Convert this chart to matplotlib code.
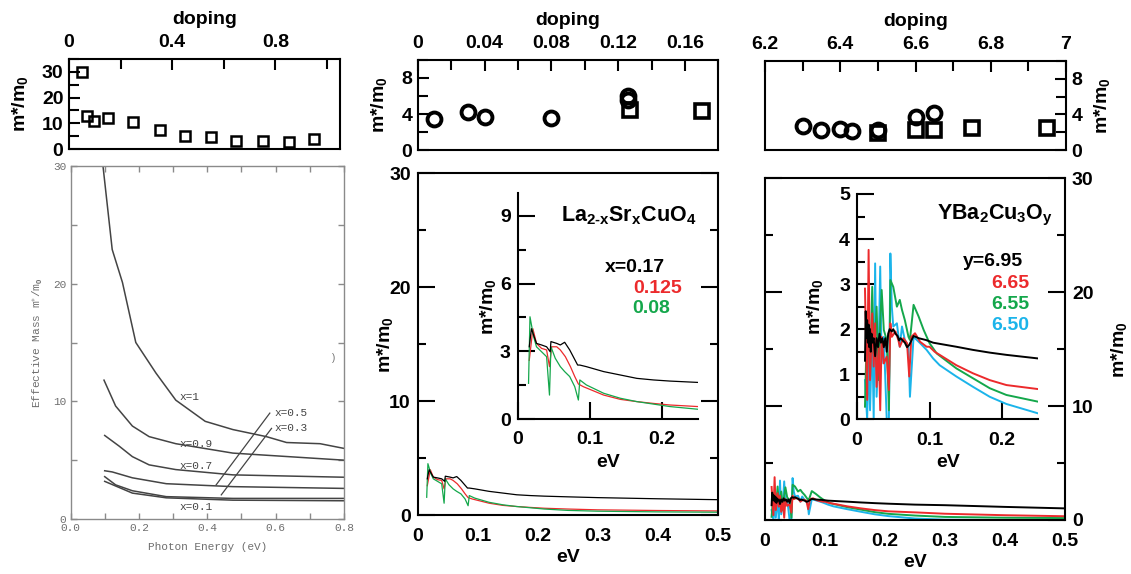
import numpy as np
import matplotlib
matplotlib.use("Agg")
import matplotlib.pyplot as plt
from matplotlib.ticker import MultipleLocator

plt.rcParams['font.family'] = ['Liberation Sans', 'DejaVu Sans']
plt.rcParams['font.weight'] = 'bold'
plt.rcParams['axes.labelweight'] = 'bold'
plt.rcParams['mathtext.fontset'] = 'custom'
plt.rcParams['mathtext.rm'] = 'Liberation Sans:bold'
plt.rcParams['mathtext.bf'] = 'Liberation Sans:bold'
plt.rcParams['mathtext.it'] = 'Liberation Sans:bold'
plt.rcParams['axes.linewidth'] = 1.5

# ---------------- data ----------------
# top left: old doping dependence (squares)
old_doping = [0.05, 0.068, 0.098, 0.152, 0.249, 0.352, 0.448, 0.549, 0.648, 0.751, 0.854, 0.95]
old_mass = [30.0, 13.0, 10.9, 12.2, 10.5, 7.4, 5.1, 4.5, 3.0, 3.2, 2.6, 3.8]

# top middle: LSCO
lsco_circ_doping = [0.01, 0.03, 0.04, 0.08, 0.126, 0.126]
lsco_circ_mass = [3.4, 4.2, 3.7, 3.6, 6.0, 5.6]
lsco_sq_doping = [0.127, 0.17]
lsco_sq_mass = [4.4, 4.3]

# top right: YBCO
ybco_circ_doping = [6.30, 6.35, 6.40, 6.43, 6.50, 6.60, 6.65]
ybco_circ_mass = [2.7, 2.2, 2.4, 2.1, 2.2, 3.7, 4.2]
ybco_sq_doping = [6.50, 6.60, 6.65, 6.75, 6.95]
ybco_sq_mass = [1.9, 2.2, 2.3, 2.5, 2.5]

# bottom left: scanned effective mass vs photon energy
old_e_x10 = [0.095, 0.122, 0.152, 0.191, 0.25, 0.308, 0.394, 0.475, 0.573, 0.632, 0.73, 0.8]
old_m_x10 = [30.0, 22.9, 20.1, 15.0, 12.4, 10.1, 8.3, 7.6, 7.0, 6.5, 6.4, 6.0]
old_e_x09 = [0.098, 0.132, 0.181, 0.23, 0.308, 0.475, 0.8]
old_m_x09 = [11.8, 9.6, 7.9, 7.0, 6.4, 5.6, 5.0]
old_e_x07 = [0.1, 0.142, 0.181, 0.23, 0.308, 0.475, 0.8]
old_m_x07 = [7.1, 6.2, 5.3, 4.6, 4.2, 3.75, 3.55]
old_e_x05 = [0.1, 0.122, 0.181, 0.28, 0.475, 0.8]
old_m_x05 = [4.1, 4.0, 3.5, 3.0, 2.75, 2.6]
old_e_x03 = [0.1, 0.132, 0.181, 0.28, 0.475, 0.8]
old_m_x03 = [3.6, 2.9, 2.4, 1.9, 1.75, 1.75]
old_e_x01 = [0.1, 0.181, 0.28, 0.475, 0.8]
old_m_x01 = [3.2, 2.2, 1.8, 1.6, 1.55]

# bottom middle: LSCO m*/m0 vs eV
lsco_e_017 = [0.016, 0.019, 0.026, 0.033, 0.040, 0.045, 0.046, 0.054, 0.059, 0.065, 0.072, 0.083,
              0.086, 0.095, 0.119, 0.142, 0.165, 0.188, 0.211, 0.25, 0.3, 0.4, 0.5]
lsco_m_017 = [3.2, 4.0, 3.35, 3.28, 3.2, 2.98, 3.43, 3.35, 3.28, 3.4, 3.06, 2.39,
              2.39, 2.32, 2.1, 1.95, 1.8, 1.73, 1.68, 1.62, 1.55, 1.45, 1.37]
lsco_e_0125 = [0.016, 0.021, 0.026, 0.033, 0.040, 0.044, 0.047, 0.054, 0.059, 0.066, 0.073, 0.079,
               0.084, 0.091, 0.119, 0.142, 0.165, 0.188, 0.211, 0.25, 0.3, 0.4, 0.5]
lsco_m_0125 = [2.6, 4.0, 3.35, 3.13, 3.06, 2.32, 3.2, 3.2, 3.06, 2.76, 2.32, 1.88,
               1.55, 1.43, 1.06, 0.87, 0.77, 0.69, 0.62, 0.55, 0.48, 0.42, 0.38]
lsco_e_008 = [0.015, 0.017, 0.022, 0.026, 0.033, 0.040, 0.044, 0.046, 0.052, 0.059, 0.065, 0.072,
              0.079, 0.084, 0.086, 0.095, 0.119, 0.142, 0.165, 0.188, 0.211, 0.25, 0.3, 0.4, 0.5]
lsco_m_008 = [1.58, 4.53, 3.65, 3.2, 2.98, 2.76, 1.06, 3.2, 2.69, 2.32, 2.1, 1.88,
              1.43, 0.84, 1.73, 1.51, 1.14, 0.92, 0.77, 0.66, 0.55, 0.43, 0.36, 0.3, 0.27]

# bottom right: YBCO m*/m0 vs eV
ybco_e_695 = [0.011, 0.012, 0.013, 0.014, 0.015, 0.016, 0.017, 0.018, 0.019, 0.020, 0.021, 0.023,
              0.025, 0.027, 0.029, 0.031, 0.033, 0.035, 0.037, 0.039, 0.041, 0.043, 0.045, 0.048,
              0.050, 0.053, 0.056, 0.058, 0.060, 0.063, 0.066, 0.069, 0.072, 0.075, 0.078, 0.085,
              0.095, 0.105, 0.137, 0.16, 0.183, 0.206, 0.25, 0.3, 0.4, 0.5]
ybco_m_695 = [1.3, 2.4, 1.8, 2.2, 1.7, 2.1, 1.6, 2.0, 1.5, 1.9, 1.7, 1.8,
              1.4, 1.8, 1.6, 1.9, 1.7, 1.8, 1.6, 1.8, 1.5, 1.9, 2.0, 1.95,
              2.0, 1.9, 1.85, 1.75, 1.8, 1.75, 1.7, 1.6, 1.65, 1.75, 1.85, 1.8,
              1.76, 1.70, 1.61, 1.54, 1.48, 1.43, 1.35, 1.3, 1.15, 1.02]
ybco_e_665 = [0.011, 0.014, 0.016, 0.018, 0.021, 0.023, 0.025, 0.027, 0.030, 0.032, 0.034, 0.037,
              0.041, 0.044, 0.046, 0.048, 0.053, 0.057, 0.059, 0.064, 0.069, 0.072, 0.075, 0.080,
              0.087, 0.096, 0.100, 0.107, 0.114, 0.137, 0.160, 0.183, 0.206, 0.25, 0.3, 0.4, 0.5]
ybco_m_665 = [2.9, 0.43, 3.76, 0.87, 2.35, 1.17, 2.13, 0.72, 1.6, 0.2, 1.83, 1.24,
              1.39, 0.65, 2.13, 1.83, 1.95, 1.76, 1.61, 1.80, 1.69, 0.95, 1.83, 1.91,
              1.72, 1.61, 1.61, 1.5, 1.43, 1.2, 1.02, 0.87, 0.76, 0.67, 0.55, 0.42, 0.33]
ybco_e_655 = [0.011, 0.014, 0.016, 0.018, 0.021, 0.023, 0.025, 0.027, 0.030, 0.032, 0.034, 0.037,
              0.041, 0.044, 0.046, 0.050, 0.055, 0.059, 0.062, 0.066, 0.071, 0.073, 0.078, 0.085,
              0.092, 0.100, 0.110, 0.137, 0.160, 0.183, 0.206, 0.25, 0.3, 0.4, 0.5]
ybco_m_655 = [0.28, 2.35, 1.76, 0.95, 2.94, 1.46, 1.83, 2.5, 0.87, 2.13, 2.87, 1.98,
              1.76, 0.2, 3.09, 2.94, 2.5, 2.65, 2.43, 2.2, 1.83, 1.76, 2.54, 2.28,
              1.98, 1.69, 1.46, 1.13, 0.91, 0.69, 0.54, 0.39, 0.27, 0.2, 0.17]
ybco_e_650 = [0.011, 0.014, 0.016, 0.018, 0.021, 0.023, 0.025, 0.027, 0.030, 0.032, 0.034, 0.037,
              0.041, 0.044, 0.046, 0.048, 0.050, 0.055, 0.059, 0.062, 0.066, 0.071, 0.073, 0.078,
              0.087, 0.096, 0.105, 0.114, 0.137, 0.160, 0.183, 0.206, 0.25, 0.3, 0.4, 0.5]
ybco_m_650 = [0.87, 0.0, 1.46, 0.2, 1.98, 0.0, 3.46, 0.5, 1.61, 3.39, 1.24, 1.83,
              0.0, 0.0, 3.68, 2.5, 2.06, 2.13, 1.61, 2.06, 1.76, 1.61, 0.5, 1.83,
              1.69, 1.54, 1.35, 1.2, 0.95, 0.72, 0.5, 0.34, 0.13, 0.03, 0.0, 0.0]

red = '#ec2a2c'
green = '#14a74b'
cyan = '#1bb4ea'
scan_grey = '#444444'
scan_text = '#6e6e6e'

fig = plt.figure(figsize=(11.31, 5.74), dpi=100)
W, H = 1131.0, 574.0


def box(left, right, top, bottom):
    # pixel box -> figure fraction
    return [left / W, 1 - bottom / H, (right - left) / W, (bottom - top) / H]


def top_panel(ax, side='left'):
    ax.xaxis.set_ticks_position('top')
    ax.xaxis.set_label_position('top')
    ax.yaxis.set_ticks_position(side)
    ax.yaxis.set_label_position(side)
    ax.tick_params(which='both', direction='in', width=1.5, labelsize=14, pad=4)
    ax.tick_params(axis='x', pad=6)
    ax.tick_params(which='major', length=8)
    ax.tick_params(which='minor', length=7)
    ax.set_xlabel('doping', fontsize=14, labelpad=7)
    ax.set_ylabel('m*/m$_0$', fontsize=14)


# ---------- top left ----------
ax = fig.add_axes(box(69, 340, 59, 149))
ax.plot(old_doping, old_mass, 's', mfc='none', mec='k', ms=7, mew=1.8, clip_on=False)
ax.set_xlim(0, 1.05)
ax.set_ylim(0, 35)
ax.set_xticks([0, 0.4, 0.8], ['0', '0.4', '0.8'])
ax.xaxis.set_minor_locator(MultipleLocator(0.2))
ax.set_yticks([0, 10, 20, 30])
ax.yaxis.set_minor_locator(MultipleLocator(5))
top_panel(ax)
ax.yaxis.set_label_coords(-0.144, 0.5)

# ---------- top middle ----------
ax = fig.add_axes(box(417.7, 718.3, 60, 150))
ax.plot(lsco_circ_doping, lsco_circ_mass, 'o', mfc='none', mec='k', ms=10, mew=2.8)
ax.plot(lsco_sq_doping, lsco_sq_mass, 's', mfc='none', mec='k', ms=10, mew=2.6)
ax.set_xlim(0, 0.18)
ax.set_ylim(0, 10)
ax.set_xticks([0, 0.04, 0.08, 0.12, 0.16], ['0', '0.04', '0.08', '0.12', '0.16'])
ax.xaxis.set_minor_locator(MultipleLocator(0.02))
ax.set_yticks([0, 4, 8])
ax.yaxis.set_minor_locator(MultipleLocator(2))
top_panel(ax)
ax.yaxis.set_label_coords(-0.094, 0.5)

# ---------- top right ----------
ax = fig.add_axes(box(765, 1066, 61, 150))
ax.plot(ybco_sq_doping, ybco_sq_mass, 's', mfc='none', mec='k', ms=10, mew=2.6)
ax.plot(ybco_circ_doping, ybco_circ_mass, 'o', mfc='none', mec='k', ms=10, mew=2.8)
ax.set_xlim(6.2, 7.0)
ax.set_ylim(0, 10)
ax.set_xticks([6.2, 6.4, 6.6, 6.8, 7.0], ['6.2', '6.4', '6.6', '6.8', '7'])
ax.xaxis.set_minor_locator(MultipleLocator(0.1))
ax.set_yticks([0, 4, 8])
ax.yaxis.set_minor_locator(MultipleLocator(2))
top_panel(ax, side='right')
ax.yaxis.set_label_coords(1.088, 0.5)

# ---------- bottom left: scanned old figure ----------
ax = fig.add_axes(box(70.5, 344, 166, 519))
for e, m in [(old_e_x10, old_m_x10), (old_e_x09, old_m_x09), (old_e_x07, old_m_x07),
             (old_e_x05, old_m_x05), (old_e_x03, old_m_x03), (old_e_x01, old_m_x01)]:
    ax.plot(e, m, '-', color=scan_grey, lw=1.1)
ax.set_xlim(0, 0.8)
ax.set_ylim(0, 30)
ax.set_xticks([0, 0.2, 0.4, 0.6, 0.8], ['0.0', '0.2', '0.4', '0.6', '0.8'])
ax.xaxis.set_minor_locator(MultipleLocator(0.1))
ax.set_yticks([0, 10, 20, 30])
ax.yaxis.set_minor_locator(MultipleLocator(5))
for s in ax.spines.values():
    s.set_linewidth(1.0)
    s.set_color('#8a8a8a')
ax.tick_params(which='both', direction='in', top=True, right=True, color='#8a8a8a',
               width=1.0, labelcolor=scan_text, labelsize=8, pad=3)
ax.tick_params(which='major', length=4)
ax.tick_params(which='minor', length=4)
for lab in ax.get_xticklabels() + ax.get_yticklabels():
    lab.set_fontfamily('Liberation Mono')
    lab.set_fontweight('normal')
ax.set_xlabel('Photon Energy (eV)', fontsize=8, color=scan_text, family='Liberation Mono',
              fontweight='normal', labelpad=6)
ax.set_ylabel('Effective Mass m$^{\\ast}$/m$_0$', fontsize=8, color=scan_text,
              family='Liberation Mono', fontweight='normal', labelpad=6)
# curve labels and leader lines
curve_labels = ['x=1', 'x=0.9', 'x=0.7', 'x=0.1']
curve_label_x = [0.348, 0.367, 0.367, 0.367]
curve_label_y = [10.4, 6.4, 4.5, 1.05]
for t, lx, ly in zip(curve_labels, curve_label_x, curve_label_y):
    ax.text(lx, ly, t, fontsize=8, color=scan_grey, family='Liberation Mono',
            fontweight='normal', ha='center', va='center')
ax.text(0.598, 9.0, 'x=0.5', fontsize=8, color=scan_grey, family='Liberation Mono',
        fontweight='normal', ha='left', va='center')
ax.text(0.598, 7.7, 'x=0.3', fontsize=8, color=scan_grey, family='Liberation Mono',
        fontweight='normal', ha='left', va='center')
ax.plot([0.426, 0.583], [2.9, 9.0], color=scan_grey, lw=0.9)
ax.plot([0.441, 0.588], [2.05, 7.7], color=scan_grey, lw=0.9)
ax.text(0.769, 13.7, ')', fontsize=7, color=scan_text, fontweight='normal', ha='center', va='center')


def main_panel(ax, side='left'):
    ax.set_xlim(0, 0.5)
    ax.set_ylim(0, 30)
    ax.set_xticks([0, 0.1, 0.2, 0.3, 0.4, 0.5], ['0', '0.1', '0.2', '0.3', '0.4', '0.5'])
    ax.set_yticks([0, 10, 20, 30])
    ax.yaxis.set_minor_locator(MultipleLocator(5))
    ax.yaxis.set_ticks_position('both')
    ax.tick_params(axis='y', which='both', direction='in', left=True, right=True, width=1.5,
                   labelsize=14, pad=5, labelleft=(side == 'left'), labelright=(side == 'right'))
    ax.tick_params(axis='y', which='major', length=12)
    ax.tick_params(axis='y', which='minor', length=6)
    ax.tick_params(axis='x', length=0, labelsize=14, pad=9)
    ax.yaxis.set_label_position(side)
    ax.set_xlabel('eV', fontsize=14)
    ax.set_ylabel('m*/m$_0$', fontsize=14)


def inset_panel(ax, ymax, major, minor):
    ax.set_facecolor('none')
    ax.spines['top'].set_visible(False)
    ax.spines['right'].set_visible(False)
    ax.set_xlim(0, 0.25)
    ax.set_ylim(0, ymax)
    ax.set_xticks([0, 0.1, 0.2], ['0', '0.1', '0.2'])
    ax.set_yticks(np.arange(0, ymax + 0.01, major))
    ax.yaxis.set_minor_locator(MultipleLocator(minor))
    ax.tick_params(which='both', direction='in', width=1.5, labelsize=14)
    ax.tick_params(axis='x', which='major', length=12, pad=9)
    ax.tick_params(axis='y', which='major', length=12, pad=5)
    ax.tick_params(axis='y', which='minor', length=6)
    ax.set_xlabel('eV', fontsize=14)
    ax.set_ylabel('m*/m$_0$', fontsize=14)


# ---------- bottom middle: LSCO ----------
ax = fig.add_axes(box(417.7, 717.7, 173.3, 515.3))
main_panel(ax, 'left')
ax.yaxis.set_label_coords(-0.077, 0.5)
ax.xaxis.set_label_coords(0.5, -0.099)
ax.plot(lsco_e_0125, lsco_m_0125, color=red, lw=0.9)
ax.plot(lsco_e_008, lsco_m_008, color=green, lw=0.9)
ax.plot(lsco_e_017, lsco_m_017, color='k', lw=0.9)

ins = fig.add_axes(box(517.7, 698.3, 193.3, 419))
inset_panel(ins, 10, 3, 1.5)
ins.set_yticks([0, 3, 6, 9])
ins.yaxis.set_label_coords(-0.11, 0.5)
ins.xaxis.set_label_coords(0.5, -0.155)
ins.plot(lsco_e_0125, lsco_m_0125, color=red, lw=0.9)
ins.plot(lsco_e_008, lsco_m_008, color=green, lw=0.9)
ins.plot(lsco_e_017, lsco_m_017, color='k', lw=0.9)
ins.text(0.248, 9.0, r'La$_{\mathrm{2\text{-}x}}$Sr$_{\mathrm{x}}$CuO$_4$', fontsize=15.5,
         ha='right', va='center', clip_on=False)
ins.text(0.204, 6.7, 'x=0.17', fontsize=14, color='k', ha='right', va='center')
ins.text(0.227, 5.8, '0.125', fontsize=14, color=red, ha='right', va='center')
ins.text(0.211, 4.9, '0.08', fontsize=14, color=green, ha='right', va='center')

# ---------- bottom right: YBCO ----------
ax = fig.add_axes(box(765, 1065, 178.3, 520))
main_panel(ax, 'right')
ax.yaxis.set_label_coords(1.147, 0.5)
ax.xaxis.set_label_coords(0.5, -0.1)
ax.plot(ybco_e_650, ybco_m_650, color=cyan, lw=1.4)
ax.plot(ybco_e_655, ybco_m_655, color=green, lw=1.4)
ax.plot(ybco_e_665, ybco_m_665, color=red, lw=1.4)
ax.plot(ybco_e_695, ybco_m_695, color='k', lw=1.4)

ins = fig.add_axes(box(857, 1038.3, 194, 419.3))
inset_panel(ins, 5, 1, 0.5)
ins.yaxis.set_label_coords(-0.179, 0.5)
ins.xaxis.set_label_coords(0.5, -0.155)
ins.plot(ybco_e_650, ybco_m_650, color=cyan, lw=1.4)
ins.plot(ybco_e_655, ybco_m_655, color=green, lw=1.4)
ins.plot(ybco_e_665, ybco_m_665, color=red, lw=1.4)
ins.plot(ybco_e_695, ybco_m_695, color='k', lw=1.4)
ins.text(0.27, 4.53, r'YBa$_2$Cu$_3$O$_{\mathrm{y}}$', fontsize=15.5,
         ha='right', va='center', clip_on=False)
ins.text(0.229, 3.5, 'y=6.95', fontsize=14, color='k', ha='right', va='center')
ins.text(0.238, 3.02, '6.65', fontsize=14, color=red, ha='right', va='center')
ins.text(0.238, 2.54, '6.55', fontsize=14, color=green, ha='right', va='center')
ins.text(0.238, 2.09, '6.50', fontsize=14, color=cyan, ha='right', va='center')

fig.savefig('out.png', dpi=100)
